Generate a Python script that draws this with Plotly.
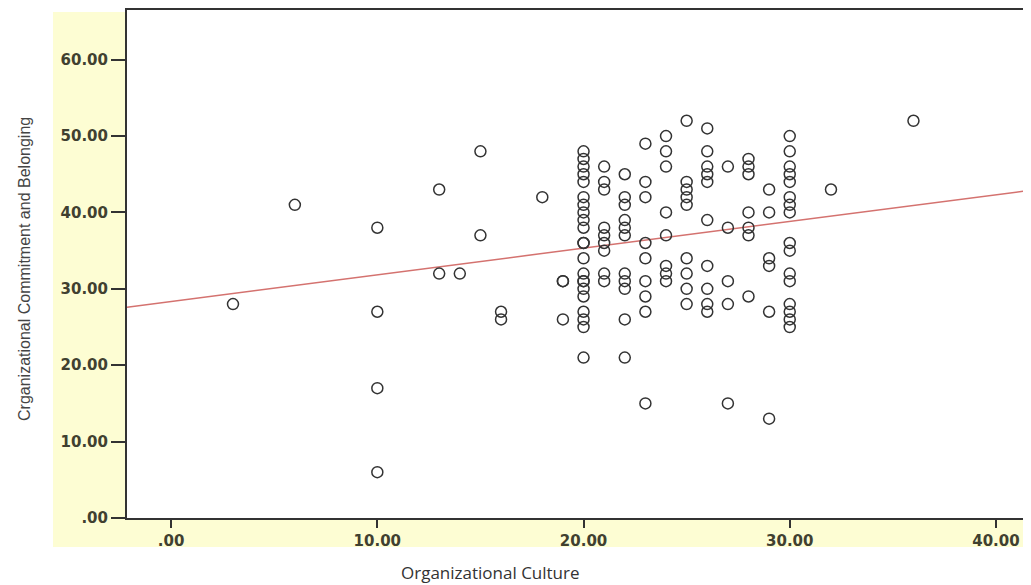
import plotly.graph_objects as go

# Data
culture = [3, 6,
           10, 10, 10, 10,
           13, 13, 14, 15, 15, 16, 16, 18, 19, 19, 19,
           20, 20, 20, 20, 20, 20, 20, 20, 20, 20, 20, 20, 20, 20, 20, 20, 20, 20, 20, 20, 20, 20,
           21, 21, 21, 21, 21, 21, 21, 21, 21,
           22, 22, 22, 22, 22, 22, 22, 22, 22, 22, 22,
           23, 23, 23, 23, 23, 23, 23, 23, 23,
           24, 24, 24, 24, 24, 24, 24, 24,
           25, 25, 25, 25, 25, 25, 25, 25, 25,
           26, 26, 26, 26, 26, 26, 26, 26, 26, 26,
           27, 27, 27, 27, 27,
           28, 28, 28, 28, 28, 28, 28,
           29, 29, 29, 29, 29, 29,
           30, 30, 30, 30, 30, 30, 30, 30, 30, 30, 30, 30, 30, 30, 30, 30,
           32, 36]

commitment = [28, 41,
              38, 27, 17, 6,
              43, 32, 32, 48, 37, 27, 26, 42, 31, 31, 26,
              48, 47, 46, 45, 44, 42, 41, 40, 39, 38, 36, 36, 34, 32, 31, 31, 30, 29, 27, 26, 25, 21,
              46, 44, 43, 38, 37, 36, 35, 32, 31,
              45, 42, 41, 39, 38, 37, 32, 31, 30, 26, 21,
              49, 44, 42, 36, 34, 31, 29, 27, 15,
              50, 48, 46, 40, 37, 33, 32, 31,
              52, 44, 43, 42, 41, 34, 32, 30, 28,
              51, 48, 46, 45, 44, 39, 33, 30, 28, 27,
              46, 38, 31, 28, 15,
              47, 46, 45, 40, 38, 37, 29,
              43, 40, 34, 33, 27, 13,
              50, 48, 46, 45, 44, 42, 41, 40, 36, 35, 32, 31, 28, 27, 26, 25,
              43, 52]

# Fit line end points
fit_x = [-2.14, 41.7]
fit_y = [27.6, 42.9]

x_ticks = [0, 10, 20, 30, 40]
x_tick_text = [".00", "10.00", "20.00", "30.00", "40.00"]
y_ticks = [0, 10, 20, 30, 40, 50, 60]
y_tick_text = [".00", "10.00", "20.00", "30.00", "40.00", "50.00", "60.00"]

n = min(len(culture), len(commitment))

fig = go.Figure()
fig.add_trace(go.Scatter(
    x=fit_x, y=fit_y, mode="lines",
    line=dict(color="#D4726F", width=1.5),
    hoverinfo="skip", showlegend=False,
))
fig.add_trace(go.Scatter(
    x=culture[:n], y=commitment[:n], mode="markers",
    marker=dict(symbol="circle-open", size=11, color="#333333",
                line=dict(width=1.5, color="#333333")),
    showlegend=False,
))

tick_font = dict(family="DejaVu Sans", size=15, color="#404030", weight="bold")

# plot area in page pixels: x 127..1031, y 8..518 (page has an 8px body offset)
PL, PR, PT, PB = 127.0, 1031.0, 8.0, 518.0
W, H = PR - PL, PB - PT


def px(xp):
    return (xp - PL) / W


def py(yp):
    return (PB - yp) / H


fig.update_layout(
    width=1031, height=585,
    margin=dict(l=119, r=8, t=0, b=75),
    paper_bgcolor="white",
    plot_bgcolor="white",
    xaxis=dict(
        range=[-2.14, 41.7],
        tickvals=x_ticks, ticktext=x_tick_text,
        ticks="outside", ticklen=8, tickwidth=2, tickcolor="#333",
        showline=True, linecolor="#333", linewidth=2, mirror=True,
        showgrid=False, zeroline=False,
        tickfont=tick_font,
    ),
    yaxis=dict(
        range=[0, 66.5],
        tickvals=y_ticks, ticktext=y_tick_text,
        ticks="outside", ticklen=14, tickwidth=1.5, tickcolor="#333",
        showline=True, linecolor="#333", linewidth=2,
        showgrid=False, zeroline=False,
        tickfont=tick_font,
    ),
    shapes=[
        dict(type="rect", xref="paper", yref="paper",
             x0=px(53), x1=1.01, y0=py(547), y1=py(10),
             fillcolor="#FDFDD3", line=dict(width=0), layer="below"),
        dict(type="rect", xref="paper", yref="paper",
             x0=0, x1=1.01, y0=0, y1=1,
             fillcolor="white", line=dict(width=0), layer="below"),
    ],
    annotations=[
        dict(text="Organizational Culture", xref="paper", yref="paper",
             x=px(490), y=py(573),
             showarrow=False, xanchor="center", yanchor="middle",
             font=dict(family="Open Sans", size=17, color="#333")),
        dict(text="Crganizational Commitment and Belonging", xref="paper", yref="paper",
             x=px(25), y=py(268), textangle=-90,
             showarrow=False, xanchor="center", yanchor="middle",
             font=dict(family="Liberation Sans", size=16, color="#444")),
    ],
)

fig.write_html("out.html")
